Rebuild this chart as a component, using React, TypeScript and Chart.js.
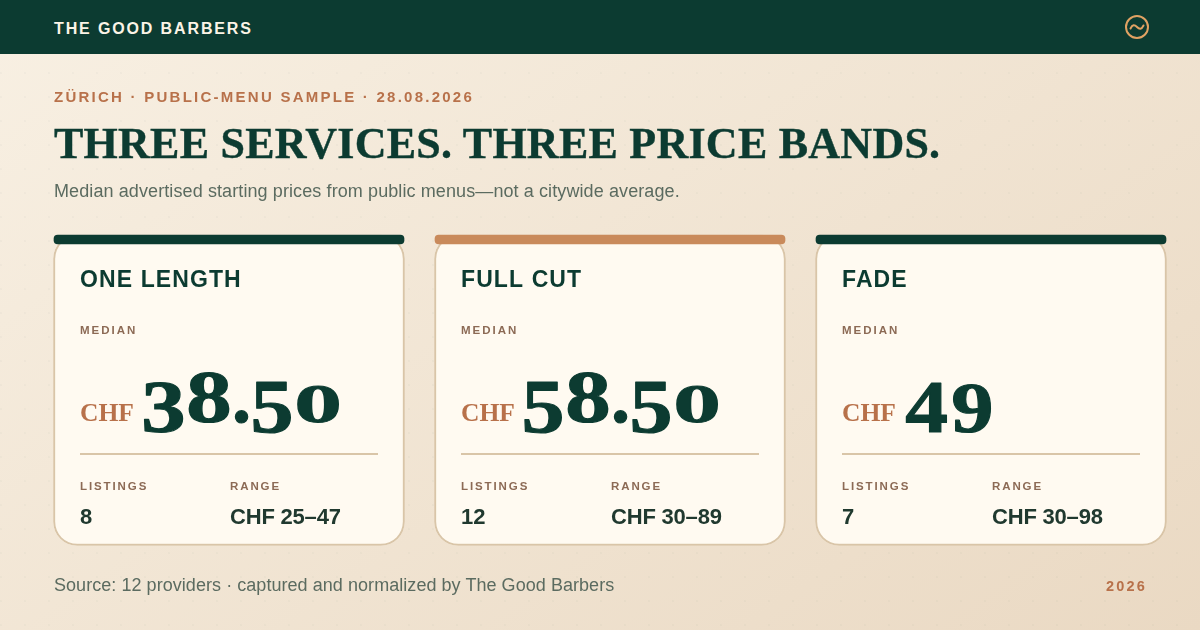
import React, { useEffect, useRef } from "react";
import { Chart, registerables } from "chart.js";

Chart.register(...registerables);

const services = ["ONE LENGTH", "FULL CUT", "FADE"];
const medians = ["38.50", "58.50", "49"];
const listings = ["8", "12", "7"];
const ranges = ["CHF 25–47", "CHF 30–89", "CHF 30–98"];
const accents = ["#0c3b31", "#c98a5b", "#0c3b31"];

const SANS = '"Liberation Sans", sans-serif';
const SERIF = '"Liberation Serif", serif';
const GREEN = "#0c3b31";
const ORANGE = "#b8714a";
const BROWN = "#8c6a55";
const RULE = "#d9c5a8";

// old-style figures are not installed, so each glyph is fitted to its own box
const GLYPHS: Record<string, { w: number; h: number; drop: number }> = {
  "0": { w: 42, h: 38, drop: 0 },
  "3": { w: 39, h: 50, drop: 10 },
  "4": { w: 41, h: 49, drop: 10 },
  "5": { w: 37, h: 50, drop: 10 },
  "8": { w: 40, h: 51, drop: 0 },
  "9": { w: 38, h: 49, drop: 10 },
  ".": { w: 13, h: 13, drop: 0 },
};

function text(
  ctx: CanvasRenderingContext2D,
  str: string,
  x: number,
  y: number,
  font: string,
  color: string,
  spacing = 0
) {
  ctx.font = font;
  ctx.fillStyle = color;
  ctx.letterSpacing = spacing + "px";
  ctx.fillText(str, x, y);
  ctx.letterSpacing = "0px";
}

function drawMedian(ctx: CanvasRenderingContext2D, value: string, x: number, y: number) {
  let pen = x;
  ctx.font = `bold 100px ${SERIF}`;
  ctx.fillStyle = GREEN;
  ctx.strokeStyle = GREEN;
  ctx.lineJoin = "round";
  for (const ch of value) {
    const g = GLYPHS[ch];
    const m = ctx.measureText(ch);
    const bw = m.actualBoundingBoxLeft + m.actualBoundingBoxRight;
    const bh = m.actualBoundingBoxAscent + m.actualBoundingBoxDescent;
    const sx = g.w / bw;
    const sy = g.h / bh;
    ctx.save();
    ctx.translate(pen + m.actualBoundingBoxLeft * sx, y + g.drop - m.actualBoundingBoxDescent * sy);
    ctx.scale(sx, sy);
    ctx.fillText(ch, 0, 0);
    ctx.lineWidth = 1.5;
    ctx.strokeText(ch, 0, 0);
    ctx.restore();
    pen += g.w + 6;
  }
}

const cardText = {
  id: "cardText",
  afterDatasetsDraw(chart: Chart) {
    const ctx = chart.ctx;
    const xScale = chart.scales.x;
    const yScale = chart.scales.y;
    ctx.save();
    ctx.textBaseline = "alphabetic";
    ctx.textAlign = "left";
    services.forEach((name, i) => {
      const left = xScale.getPixelForValue(i) - 149;
      text(ctx, name, left, yScale.getPixelForValue(287), `bold 23px ${SANS}`, GREEN, 1.1);
      text(ctx, "MEDIAN", left, yScale.getPixelForValue(334), `bold 11.5px ${SANS}`, BROWN, 2);
      text(ctx, "CHF", left, yScale.getPixelForValue(421), `bold 25.5px ${SERIF}`, ORANGE);
      drawMedian(ctx, medians[i], left + 64, yScale.getPixelForValue(423));
      ctx.fillStyle = RULE;
      ctx.fillRect(left, yScale.getPixelForValue(453), 298, 2);
      text(ctx, "LISTINGS", left, yScale.getPixelForValue(490), `bold 11.5px ${SANS}`, BROWN, 1.9);
      text(ctx, "RANGE", left + 150, yScale.getPixelForValue(490), `bold 11.5px ${SANS}`, BROWN, 1.9);
      text(ctx, listings[i], left, yScale.getPixelForValue(524), `bold 22px ${SANS}`, "#20392f");
      text(ctx, ranges[i], left + 150, yScale.getPixelForValue(524), `bold 22px ${SANS}`, "#20392f", -0.2);
    });
    ctx.restore();
  },
};

const abs = (left: number, top: number): React.CSSProperties => ({
  position: "absolute",
  left,
  top,
  whiteSpace: "nowrap",
  lineHeight: 1,
});

export default function App() {
  const canvasRef = useRef<HTMLCanvasElement | null>(null);

  useEffect(() => {
    document.body.style.margin = "0";
    if (!canvasRef.current) return;
    const chart = new Chart(canvasRef.current, {
      type: "bar",
      data: {
        labels: services,
        datasets: [
          {
            label: "accent",
            data: services.map(() => [235, 244]) as any,
            backgroundColor: accents,
            barThickness: 350,
            borderRadius: 4,
            borderSkipped: false,
            order: 1,
          },
          {
            label: "card",
            data: services.map(() => [235, 545.5]) as any,
            backgroundColor: "#fffaf1",
            borderColor: RULE,
            borderWidth: 2,
            barThickness: 351,
            borderRadius: 24,
            borderSkipped: false,
            order: 2,
          },
        ],
      },
      options: {
        responsive: false,
        animation: false,
        layout: { padding: { left: 38.5, right: 18.5, top: 0, bottom: 0 } },
        plugins: { legend: { display: false }, tooltip: { enabled: false } },
        scales: {
          x: { display: false, stacked: true },
          y: { display: false, min: 0, max: 630, reverse: true },
        },
      },
      plugins: [cardText],
    });
    return () => chart.destroy();
  }, []);

  return (
    <div
      style={{
        position: "relative",
        width: 1200,
        height: 630,
        overflow: "hidden",
        fontFamily: SANS,
        backgroundImage:
          "radial-gradient(circle at 1px 1px, rgba(12,59,49,0.025) 1px, transparent 1.5px), linear-gradient(145deg, #f8f0e3 0%, #ead9c3 100%)",
        backgroundSize: "24px 24px, 100% 100%",
      }}
    >
      <canvas ref={canvasRef} width={1200} height={630} style={{ position: "absolute", left: 0, top: 0 }} />
      <div style={{ position: "absolute", left: 0, top: 0, width: 1200, height: 54, background: GREEN }} />
      <div style={{ ...abs(54, 21), fontSize: 16, fontWeight: 700, letterSpacing: 1.87, color: "#fbf4e6" }}>
        THE GOOD BARBERS
      </div>
      <svg
        width="26"
        height="26"
        viewBox="0 0 26 26"
        fill="none"
        stroke="#e0a263"
        strokeWidth="2"
        strokeLinecap="round"
        style={{ position: "absolute", left: 1124, top: 14 }}
      >
        <circle cx="13" cy="13" r="11" />
        <path d="M6.500 14.500C8.500 10.500 10.500 10.500 13 13S17.500 15.500 19.500 11.500" />
      </svg>
      <div style={{ ...abs(54, 89), fontSize: 15, fontWeight: 700, letterSpacing: 2.25, color: ORANGE }}>
        ZÜRICH · PUBLIC-MENU SAMPLE · 28.08.2026
      </div>
      <div
        style={{
          ...abs(54, 122),
          fontFamily: SERIF,
          fontSize: 44,
          fontWeight: 700,
          letterSpacing: 0.25,
          color: GREEN,
          WebkitTextStroke: "0.4px " + GREEN,
        }}
      >
        THREE SERVICES. THREE PRICE BANDS.
      </div>
      <div style={{ ...abs(54, 182), fontSize: 18, letterSpacing: 0.1, color: "#5b6b60" }}>
        Median advertised starting prices from public menus—not a citywide average.
      </div>
      <div style={{ ...abs(54, 576), fontSize: 18, letterSpacing: 0.05, color: "#5b6b60" }}>
        Source: 12 providers · captured and normalized by The Good Barbers
      </div>
      <div style={{ ...abs(1106, 578.5), fontSize: 14.5, fontWeight: 700, letterSpacing: 2.2, color: ORANGE }}>
        2026
      </div>
    </div>
  );
}
